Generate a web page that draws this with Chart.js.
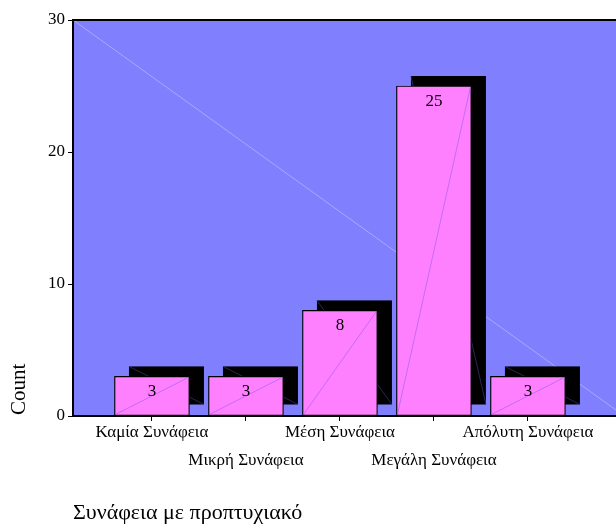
<!DOCTYPE html>
<html>
<head>
<meta charset="utf-8">
<script src="https://cdn.jsdelivr.net/npm/chart.js@4"></script>
<style>
html,body{margin:0;padding:0;background:#fff;}
#wrap{width:616px;height:524px;position:relative;}
</style>
</head>
<body>
<div id="wrap"><canvas id="c" width="616" height="524"></canvas></div>
<script>
const categories = ['Καμία Συνάφεια','Μικρή Συνάφεια','Μέση Συνάφεια','Μεγάλη Συνάφεια','Απόλυτη Συνάφεια'];
const counts = [3, 3, 8, 25, 3];
const yTickValues = [0, 10, 20, 30];
const xTitle = 'Συνάφεια με προπτυχιακό';
const yTitle = 'Count';

const SERIF = '"Liberation Serif", "DejaVu Serif", serif';

const decor = {
  id: 'decor',
  beforeDraw(chart) {
    const {ctx, chartArea: a} = chart;
    ctx.save();
    ctx.fillStyle = '#8080FF';
    ctx.fillRect(a.left, a.top, a.right - a.left, a.bottom - a.top);
    ctx.beginPath();
    ctx.rect(a.left, a.top, a.right - a.left, a.bottom - a.top);
    ctx.clip();
    ctx.strokeStyle = '#A8A8FF';
    ctx.lineWidth = 1;
    ctx.beginPath();
    ctx.moveTo(a.left, a.top);
    ctx.lineTo(a.right, a.bottom - 6);
    ctx.stroke();
    ctx.restore();
  },
  beforeDatasetsDraw(chart) {
    const {ctx} = chart;
    const meta = chart.getDatasetMeta(0);
    ctx.save();
    meta.data.forEach(bar => {
      const w = bar.width;
      const l = bar.x - w / 2 + 14.5;
      const t = bar.y - 10;
      const b = bar.base - 11;
      ctx.fillStyle = '#000';
      ctx.fillRect(l, t, w, b - t);
      ctx.strokeStyle = 'rgba(70,70,150,0.8)';
      ctx.lineWidth = 0.7;
      ctx.beginPath();
      ctx.moveTo(l, t);
      ctx.lineTo(l + w, b);
      ctx.stroke();
    });
    ctx.restore();
  },
  afterDatasetsDraw(chart) {
    const {ctx, chartArea: a} = chart;
    const meta = chart.getDatasetMeta(0);
    ctx.save();
    meta.data.forEach((bar, i) => {
      const w = bar.width;
      const l = bar.x - w / 2;
      ctx.strokeStyle = 'rgba(170,100,240,0.9)';
      ctx.lineWidth = 0.8;
      ctx.beginPath();
      ctx.moveTo(l + 1, bar.base - 1);
      ctx.lineTo(l + w - 1, bar.y + 1);
      ctx.stroke();
      ctx.fillStyle = '#000';
      ctx.font = '17px ' + SERIF;
      ctx.textAlign = 'center';
      ctx.textBaseline = 'alphabetic';
      ctx.fillText(String(counts[i]), bar.x, bar.y + 20);
    });
    ctx.strokeStyle = '#000';
    ctx.lineWidth = 2;
    ctx.beginPath();
    ctx.moveTo(a.left, a.top);
    ctx.lineTo(a.right, a.top);
    ctx.stroke();
    ctx.restore();
  },
  afterDraw(chart) {
    const {ctx} = chart;
    const xs = chart.scales.x;
    ctx.save();
    ctx.fillStyle = '#000';
    ctx.font = '17px ' + SERIF;
    ctx.textAlign = 'center';
    ctx.textBaseline = 'alphabetic';
    categories.forEach((c, i) => {
      const px = xs.getPixelForValue(i);
      ctx.fillText(c, px, i % 2 === 0 ? 437 : 465);
    });
    ctx.font = '22px ' + SERIF;
    ctx.textAlign = 'left';
    ctx.fillText(xTitle, 73, 519);
    ctx.translate(25, 415);
    ctx.rotate(-Math.PI / 2);
    ctx.font = '21px ' + SERIF;
    ctx.fillText(yTitle, 0, 0);
    ctx.restore();
  }
};

new Chart(document.getElementById('c'), {
  type: 'bar',
  data: {
    labels: categories,
    datasets: [{
      data: counts.map((v, i) => ({x: i, y: v})),
      backgroundColor: '#FF80FF',
      borderColor: '#000',
      borderWidth: 1.2,
      borderSkipped: false,
      barThickness: 75
    }]
  },
  options: {
    responsive: false,
    animation: false,
    events: [],
    layout: {padding: {top: 20, right: 0, bottom: 0, left: 0}},
    plugins: {legend: {display: false}, tooltip: {enabled: false}},
    scales: {
      x: {
        type: 'linear',
        offset: false,
        min: -0.84,
        max: 4.937,
        afterBuildTicks(s) { s.ticks = categories.map((c, i) => ({value: i})); },
        afterFit(s) { s.height = 108; },
        ticks: {display: false},
        grid: {offset: false, drawOnChartArea: false, drawTicks: true, tickLength: 5, color: '#000', lineWidth: 1},
        border: {display: true, color: '#000', width: 2}
      },
      y: {
        min: 0,
        max: 30,
        afterBuildTicks(s) { s.ticks = yTickValues.map(v => ({value: v})); },
        afterFit(s) { s.width = 73; },
        ticks: {
          color: '#000',
          font: {family: SERIF, size: 17},
          padding: 3
        },
        grid: {drawOnChartArea: false, drawTicks: true, tickLength: 5, color: '#000', lineWidth: 1},
        border: {display: true, color: '#000', width: 2}
      }
    }
  },
  plugins: [decor]
});
</script>
</body>
</html>
